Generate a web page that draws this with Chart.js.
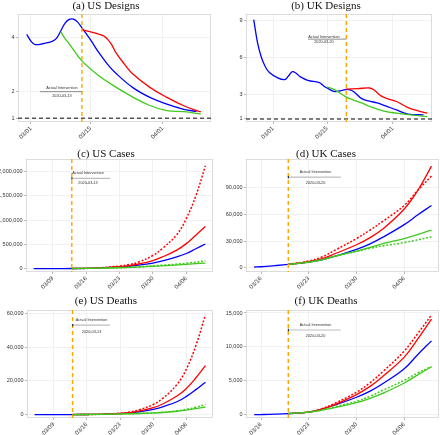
<!DOCTYPE html>
<html>
<head>
<meta charset="utf-8">
<script src="https://cdn.jsdelivr.net/npm/chart.js@4.4.1/dist/chart.umd.min.js"></script>
<style>
  html, body { margin: 0; padding: 0; background: #fff; }
  #wrap { position: relative; width: 440px; height: 435px; overflow: hidden; }
  #wrap canvas { position: absolute; }
  .ttl {
    position: absolute; width: 220px; text-align: center;
    font-family: "Liberation Serif", "Times New Roman", serif;
    font-size: 11px; line-height: 11px; color: #111; white-space: nowrap;
  }
</style>
</head>
<body>
<div id="wrap"></div>
<script>
// ============================================================================
// Intervention designs / cases / deaths – six panel grid
// x values are days counted from 03/01/2020
// ============================================================================

/* ---------- tick labels ---------- */
const designTicks = [0, 14, 31];
const usTicks = [8, 15, 22, 29, 36];
const ukTicks = [15, 22, 29, 36];
const usDesignYTicks = [1, 2, 4];
const ukDesignYTicks = [1, 3, 6, 9];
const usCaseYTicks = [0, 500000, 1000000, 1500000, 2000000];
const ukCaseYTicks = [0, 30000, 60000, 90000];
const usDeathYTicks = [0, 20000, 40000, 60000];
const ukDeathYTicks = [0, 5000, 10000, 15000];

const usInterventionDay = 12; // 03/13
const ukInterventionDay = 19; // 03/20
const usInterventionLabel = "2020-03-13";
const ukInterventionLabel = "2020-03-20";

/* ---------- (a) US designs ---------- */
const usDesBlueDays = [-1, 0, 1, 3, 5, 6, 7, 8, 9, 10, 11, 12, 14, 16, 18, 20, 24, 28, 32, 36, 39];
const usDesBlue = [4.10, 3.85, 3.72, 3.76, 3.84, 3.95, 4.22, 4.50, 4.65, 4.66, 4.55, 4.34, 3.90, 3.42, 3.00, 2.66, 2.13, 1.77, 1.52, 1.33, 1.25];
const usDesRedDays = [12, 17, 18, 19, 20, 22, 24, 28, 32, 36, 40];
const usDesRed = [4.27, 4.05, 3.92, 3.72, 3.42, 3.00, 2.63, 2.14, 1.77, 1.46, 1.23];
const usDesGreenDays = [7, 8, 9, 12, 16, 20, 24, 28, 32, 36, 40];
const usDesGreen = [4.20, 3.95, 3.75, 3.12, 2.57, 2.15, 1.78, 1.47, 1.28, 1.24, 1.15];

/* ---------- (b) UK designs ---------- */
const ukDesBlueDays = [-5, -4, -3, -2, -1, 1, 3, 4, 5, 6, 7, 9, 12, 13, 14, 16, 18, 19, 20, 21, 23, 25, 27, 29, 32, 35, 39];
const ukDesBlue = [9.10, 7.20, 6.00, 5.25, 4.80, 4.38, 4.20, 4.50, 4.85, 4.72, 4.45, 4.15, 3.96, 3.72, 3.52, 3.23, 3.33, 3.40, 3.36, 3.20, 2.65, 2.45, 2.30, 2.08, 1.73, 1.40, 1.33];
const ukDesRedDays = [19, 22, 25, 26, 28, 30, 32, 35, 38, 40];
const ukDesRed = [3.42, 3.47, 3.52, 3.40, 2.88, 2.62, 2.42, 1.92, 1.62, 1.47];
const ukDesGreenDays = [14, 16, 19, 21, 23, 25, 27, 29, 32, 35, 40];
const ukDesGreen = [3.62, 3.37, 2.78, 2.52, 2.30, 2.02, 1.80, 1.62, 1.47, 1.35, 1.19];

/* ---------- (c) US cases ---------- */
const usCaseBlueDays = [4, 8, 12, 15, 18, 22, 24, 26, 29, 31, 34, 36, 38, 40];
const usCaseBlue = [200, 700, 2200, 4600, 14000, 35000, 50000, 70000, 115000, 160000, 243000, 312000, 410000, 507000];
const usCaseAltDays = [12, 15, 18, 22, 24, 26, 29, 31, 34, 36, 38, 40];
const usCaseRed = [2200, 4600, 14000, 40000, 63000, 95000, 167000, 240000, 382000, 515000, 690000, 868000];
const usCaseRedDot = [2200, 5000, 18000, 52000, 83000, 135000, 270000, 415000, 700000, 1030000, 1500000, 2120000];
const usCaseGreenDays = [12, 15, 18, 22, 26, 31, 36, 40];
const usCaseGreen = [2200, 4000, 9000, 18000, 32000, 58000, 88000, 115000];
const usCaseGreenDot = [2200, 4200, 10000, 22000, 38000, 70000, 110000, 160000];

/* ---------- (d) UK cases ---------- */
const ukCaseBlueDays = [14, 15, 17, 19, 22, 24, 26, 29, 31, 33, 36, 38, 40];
const ukCaseBlue = [1100, 1400, 2600, 4000, 6600, 9300, 13500, 20800, 27000, 35000, 48500, 59500, 70000];
const ukCaseRedDays = [19, 22, 24, 26, 29, 31, 33, 36, 38, 40];
const ukCaseRed = [4000, 7000, 10500, 16500, 26000, 34000, 44500, 66000, 87000, 114000];
const ukCaseRedDot = [4000, 7800, 12500, 20500, 33000, 42500, 53000, 70000, 87000, 103000];
const ukCaseGreenDays = [19, 22, 24, 26, 29, 31, 33, 36, 40];
const ukCaseGreen = [4000, 6500, 9300, 13500, 19000, 23000, 27500, 33000, 42300];
const ukCaseGreenDot = [4000, 6500, 9300, 13500, 18500, 22000, 25000, 28500, 34800];

/* ---------- (e) US deaths ---------- */
const usDeathBlueDays = [4, 8, 12, 15, 18, 22, 24, 26, 29, 31, 34, 36, 38, 40];
const usDeathBlue = [10, 20, 50, 85, 200, 600, 1000, 1700, 3100, 4600, 7600, 10800, 14800, 19200];
const usDeathRedDays = [12, 15, 18, 22, 24, 26, 29, 31, 34, 36, 38, 40];
const usDeathRed = [50, 85, 200, 650, 1200, 2100, 4100, 6300, 11000, 15500, 21800, 29000];
const usDeathRedDot = [50, 90, 230, 800, 1500, 2800, 6000, 9600, 17800, 27000, 41000, 59000];
const usDeathGreenDays = [12, 15, 18, 22, 24, 28, 31, 34, 36, 38, 40];
const usDeathGreen = [50, 80, 170, 400, 520, 850, 1250, 2000, 2700, 3500, 4500];
const usDeathGreenDot = [50, 80, 170, 400, 540, 900, 1350, 2250, 3100, 4400, 6000];

/* ---------- (f) UK deaths ---------- */
const ukDeathBlueDays = [14, 15, 17, 19, 22, 24, 26, 29, 31, 33, 36, 38, 40];
const ukDeathBlue = [50, 60, 110, 200, 420, 900, 1500, 2600, 3500, 4700, 6800, 8900, 10900];
const ukDeathAltDays = [19, 22, 24, 26, 29, 31, 33, 36, 38, 40];
const ukDeathRed = [200, 420, 850, 1600, 3000, 4200, 5800, 8500, 11200, 14100];
const ukDeathRedDot = [200, 430, 950, 1800, 3350, 4750, 6500, 9400, 12000, 14700];
const ukDeathGreen = [200, 400, 700, 1100, 1800, 2450, 3250, 4700, 5900, 7100];
const ukDeathGreenDot = [200, 420, 780, 1250, 2000, 2750, 3700, 5100, 6200, 7100];

/* ============================================================
   Styling
============================================================ */
const RED = "#ff0000";
const BLUE = "#0000ff";
const GREEN = "#3fc91c";
const ORANGE = "#ffa500";
const Y_TICK_FONT = { family: "Liberation Sans, Arial, sans-serif", size: 5.5 };
const X_TICK_FONT = { family: "Liberation Sans, Arial, sans-serif", size: 6 };
const NOTE_FONT = "3.8px 'Liberation Sans', Arial, sans-serif";

const pts = (days, vals) => days.map((d, i) => ({ x: d, y: vals[i] }));

function dayLabel(d) {
  const t = new Date(Date.UTC(2020, 2, 1 + Math.round(d)));
  const mm = String(t.getUTCMonth() + 1).padStart(2, "0");
  const dd = String(t.getUTCDate()).padStart(2, "0");
  return `${mm}/${dd}`;
}

function line(days, vals, color, dotted) {
  return {
    data: pts(days, vals),
    borderColor: color,
    borderWidth: dotted ? 1.5 : 1.3,
    borderDash: dotted ? [2, 1.7] : [],
    pointRadius: 0,
    tension: 0.4,
    fill: false,
  };
}

/* ============================================================
   Reference marks plugin (intervention line, y=1 line, note)
============================================================ */
const refMarks = {
  id: "refMarks",
  beforeDatasetsDraw(chart, args, opts) {
    const { ctx, chartArea: a, scales: { y } } = chart;
    ctx.save();
    ctx.strokeStyle = "#d4d4d4";
    ctx.lineWidth = 0.8;
    ctx.strokeRect(a.left + 0.5, a.top + 0.5, a.width - 1, a.height - 1);
    if (opts.hline != null) {
      const py = y.getPixelForValue(opts.hline);
      ctx.strokeStyle = "#555";
      ctx.lineWidth = 1.5;
      ctx.setLineDash([4, 3]);
      ctx.beginPath();
      ctx.moveTo(a.left, py);
      ctx.lineTo(a.right, py);
      ctx.stroke();
    }
    ctx.restore();
  },
  afterDatasetsDraw(chart, args, opts) {
    const { ctx, chartArea: a, scales: { x, y } } = chart;
    ctx.save();
    const vx = x.getPixelForValue(opts.vline);
    ctx.strokeStyle = ORANGE;
    ctx.lineWidth = 1.4;
    ctx.setLineDash([4, 3]);
    ctx.beginPath();
    ctx.moveTo(vx, a.top);
    ctx.lineTo(vx, a.bottom);
    ctx.stroke();
    ctx.setLineDash([]);

    const n = opts.note;
    const lx1 = x.getPixelForValue(n.x1);
    const lx2 = x.getPixelForValue(n.x2);
    const ly = y.getPixelForValue(n.y);
    ctx.strokeStyle = n.heavy ? "#bdbdbd" : "#444";
    ctx.lineWidth = n.heavy ? 1.2 : 0.6;
    ctx.beginPath();
    ctx.moveTo(lx1, ly);
    ctx.lineTo(lx2, ly);
    ctx.stroke();
    if (n.heavy) {
      ctx.fillStyle = "#333";
      ctx.fillRect(lx1 - 0.5, ly - 1.2, 1.2, 2.4);
    }
    ctx.fillStyle = "#333";
    ctx.font = NOTE_FONT;
    ctx.textAlign = "center";
    ctx.textBaseline = "middle";
    const tx = x.getPixelForValue(n.tx);
    ctx.fillText("Actual Intervention", tx, y.getPixelForValue(n.ty1));
    ctx.fillText(n.date, tx, y.getPixelForValue(n.ty2));
    ctx.restore();
  },
};

/* ============================================================
   Panel builder
============================================================ */
function makePanel(p) {
  const wrap = document.getElementById("wrap");
  const cv = document.createElement("canvas");
  cv.width = 220;
  cv.height = 145;
  cv.style.left = p.left + "px";
  cv.style.top = p.top + "px";
  cv.style.width = "220px";
  cv.style.height = "145px";
  wrap.appendChild(cv);

  const ttl = document.createElement("div");
  ttl.className = "ttl";
  ttl.textContent = p.title;
  ttl.style.left = p.left - 4 + "px";
  ttl.style.top = p.titleTop + "px";
  wrap.appendChild(ttl);

  const area = p.area;
  new Chart(cv, {
    type: "line",
    data: { datasets: p.series },
    options: {
      responsive: false,
      animation: false,
      devicePixelRatio: 1,
      layout: { padding: { top: area.top, right: 220 - area.right, bottom: 0, left: 0 } },
      plugins: {
        legend: { display: false },
        tooltip: { enabled: false },
        refMarks: { vline: p.vline, hline: p.hline, note: p.note },
      },
      scales: {
        x: {
          type: "linear",
          min: p.xMin,
          max: p.xMax,
          afterBuildTicks: (s) => { s.ticks = p.xTicks.map((v) => ({ value: v })); },
          afterFit: (s) => { s.height = 145 - area.bottom; },
          ticks: {
            callback: (v) => dayLabel(v),
            minRotation: 45,
            maxRotation: 45,
            autoSkip: false,
            font: X_TICK_FONT,
            color: "#333",
            padding: 1,
          },
          grid: { color: "#ebebeb", lineWidth: 0.7, tickLength: 2, tickColor: "#999" },
          border: { display: false },
        },
        y: {
          type: "linear",
          min: p.yMin,
          max: p.yMax,
          afterBuildTicks: (s) => { s.ticks = p.yTicks.map((v) => ({ value: v })); },
          afterFit: (s) => { s.width = area.left; },
          ticks: {
            callback: (v) => v.toLocaleString("en-US"),
            font: Y_TICK_FONT,
            color: "#333",
            padding: 1.5,
          },
          grid: { color: "#ebebeb", lineWidth: 0.7, tickLength: 2, tickColor: "#999" },
          border: { display: false },
        },
      },
    },
    plugins: [refMarks],
  });
}

/* ============================================================
   Panels
============================================================ */
makePanel({
  title: "(a) US Designs", left: 0, top: 0, titleTop: -0.5,
  area: { left: 18, right: 211, top: 14, bottom: 122 },
  xMin: -3.05, xMax: 42.4, yMin: 0.86, yMax: 4.85,
  xTicks: designTicks, yTicks: usDesignYTicks,
  vline: usInterventionDay, hline: 1,
  note: { x1: 2.1, x2: usInterventionDay, y: 1.98, tx: 7.3, ty1: 2.13, ty2: 1.82, date: usInterventionLabel },
  series: [
    line(usDesGreenDays, usDesGreen, GREEN),
    line(usDesRedDays, usDesRed, RED),
    line(usDesBlueDays, usDesBlue, BLUE),
  ],
});

makePanel({
  title: "(b) UK Designs", left: 220, top: 0, titleTop: -0.5,
  area: { left: 26, right: 212, top: 14, bottom: 122 },
  xMin: -7.0, xMax: 41.2, yMin: 0.75, yMax: 9.55,
  xTicks: designTicks, yTicks: ukDesignYTicks,
  vline: ukInterventionDay, hline: 1,
  note: { x1: 9.1, x2: ukInterventionDay, y: 7.5, tx: 13.2, ty1: 7.72, ty2: 7.26, date: ukInterventionLabel },
  series: [
    line(ukDesGreenDays, ukDesGreen, GREEN),
    line(ukDesRedDays, ukDesRed, RED),
    line(ukDesBlueDays, ukDesBlue, BLUE),
  ],
});

makePanel({
  title: "(c) US Cases", left: 0, top: 145, titleTop: 147.5,
  area: { left: 26, right: 213, top: 14, bottom: 127 },
  xMin: 2.4, xMax: 41.6, yMin: -70000, yMax: 2260000,
  xTicks: usTicks, yTicks: usCaseYTicks,
  vline: usInterventionDay, hline: null,
  note: { x1: usInterventionDay, x2: 20, y: 1860000, tx: 15.4, ty1: 1980000, ty2: 1770000, date: usInterventionLabel, heavy: true },
  series: [
    line(usCaseGreenDays, usCaseGreenDot, GREEN, true),
    line(usCaseGreenDays, usCaseGreen, GREEN),
    line(usCaseAltDays, usCaseRedDot, RED, true),
    line(usCaseAltDays, usCaseRed, RED),
    line(usCaseBlueDays, usCaseBlue, BLUE),
  ],
});

makePanel({
  title: "(d) UK Cases", left: 220, top: 145, titleTop: 147.5,
  area: { left: 26, right: 219, top: 14, bottom: 127 },
  xMin: 12.8, xMax: 41.1, yMin: -4500, yMax: 122000,
  xTicks: ukTicks, yTicks: ukCaseYTicks,
  vline: ukInterventionDay, hline: null,
  note: { x1: ukInterventionDay, x2: 26.7, y: 101600, tx: 23, ty1: 107600, ty2: 95200, date: ukInterventionLabel, heavy: true },
  series: [
    line(ukCaseGreenDays, ukCaseGreenDot, GREEN, true),
    line(ukCaseGreenDays, ukCaseGreen, GREEN),
    line(ukCaseRedDays, ukCaseRedDot, RED, true),
    line(ukCaseRedDays, ukCaseRed, RED),
    line(ukCaseBlueDays, ukCaseBlue, BLUE),
  ],
});

makePanel({
  title: "(e) US Deaths", left: 0, top: 290, titleTop: 294.5,
  area: { left: 27, right: 213, top: 20, bottom: 128 },
  xMin: 2.4, xMax: 41.6, yMin: -2000, yMax: 61900,
  xTicks: usTicks, yTicks: usDeathYTicks,
  vline: usInterventionDay, hline: null,
  note: { x1: usInterventionDay, x2: 19.9, y: 52900, tx: 16, ty1: 55900, ty2: 49000, date: usInterventionLabel, heavy: true },
  series: [
    line(usDeathGreenDays, usDeathGreenDot, GREEN, true),
    line(usDeathGreenDays, usDeathGreen, GREEN),
    line(usDeathRedDays, usDeathRedDot, RED, true),
    line(usDeathRedDays, usDeathRed, RED),
    line(usDeathBlueDays, usDeathBlue, BLUE),
  ],
});

makePanel({
  title: "(f) UK Deaths", left: 220, top: 290, titleTop: 294.5,
  area: { left: 26, right: 219, top: 20, bottom: 128 },
  xMin: 12.8, xMax: 41.1, yMin: -450, yMax: 15440,
  xTicks: ukTicks, yTicks: ukDeathYTicks,
  vline: ukInterventionDay, hline: null,
  note: { x1: ukInterventionDay, x2: 26.7, y: 12500, tx: 23, ty1: 13200, ty2: 11600, date: ukInterventionLabel, heavy: true },
  series: [
    line(ukDeathAltDays, ukDeathGreenDot, GREEN, true),
    line(ukDeathAltDays, ukDeathGreen, GREEN),
    line(ukDeathAltDays, ukDeathRedDot, RED, true),
    line(ukDeathAltDays, ukDeathRed, RED),
    line(ukDeathBlueDays, ukDeathBlue, BLUE),
  ],
});
</script>
</body>
</html>
